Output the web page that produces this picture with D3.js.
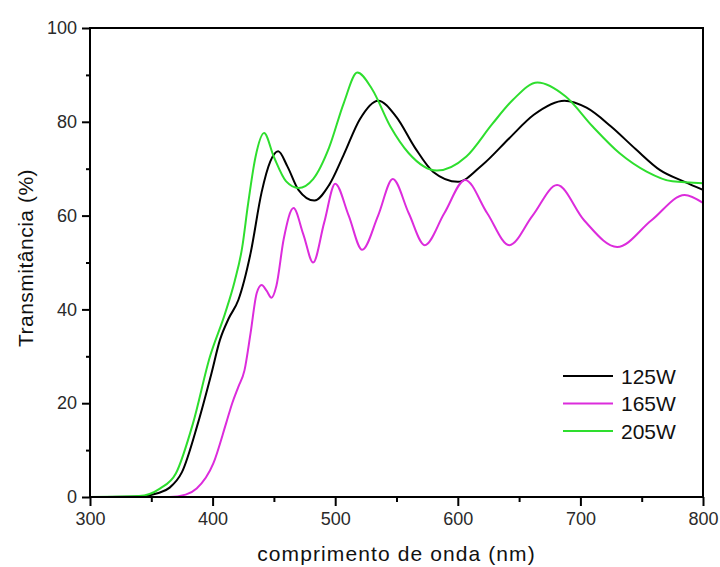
<!DOCTYPE html>
<html>
<head>
<meta charset="utf-8">
<script src="https://cdn.jsdelivr.net/npm/d3@7"></script>
<style>
  html, body { margin: 0; padding: 0; background: #fff; }
  svg { display: block; font-family: "Liberation Sans", Arial, sans-serif; }
</style>
</head>
<body>
<svg id="chart" width="720" height="567"></svg>
<script>
// Transmittance spectra for three deposition powers

const seriesNames = ["125W", "165W", "205W"];
const seriesColors = ["#000000", "#dc2cdc", "#2ede2e"];

const xTicks = [300, 400, 500, 600, 700, 800];
const yTicks = [0, 20, 40, 60, 80, 100];

const wl125 = [300, 340, 355, 365, 375, 388, 399, 406, 413, 421, 431, 440, 447, 453.5, 461, 470, 483, 495, 507, 520, 535, 550, 565, 580, 600, 620, 642, 662, 687, 705, 725, 745, 765, 785, 800];
const t125 = [0, 0.1, 0.8, 2, 5.3, 15.7, 26.3, 33.5, 38, 42, 52, 65, 71.5, 73.7, 70.5, 65.5, 63.2, 66.5, 73, 80.5, 84.5, 81, 74.5, 69.3, 67.2, 70.8, 76.5, 81.5, 84.5, 83, 79, 74.2, 69.7, 67.2, 65.5];

const wl165 = [300, 365, 378, 387, 400.5, 411, 416, 421, 426, 431, 436, 440, 444, 448, 452, 458, 466, 474, 482, 491, 500, 511, 522, 535, 547, 560, 573, 589, 606, 624, 642, 661, 681, 703, 730, 758, 785, 800];
const t165 = [0, 0, 0.5, 1.8, 7.1, 15.7, 20, 23.5, 27, 35, 43.5, 45.2, 44, 42.5, 45, 55, 61.6, 56, 50, 58.5, 66.8, 60, 52.7, 60, 67.8, 60.5, 53.7, 60.5, 67.6, 60.5, 53.7, 60, 66.5, 59, 53.3, 59, 64.4, 62.7];

const wl205 = [300, 340, 357, 370, 384, 397.8, 410, 418, 424, 429, 435, 442, 450, 460, 470, 482, 495, 507, 518, 530, 545, 560, 583, 607, 628, 645, 665, 688, 710, 732, 754, 775, 800];
const t205 = [0, 0.2, 1.8, 5, 15.7, 29.9, 39, 46, 53, 62.6, 72.5, 77.6, 72.5, 67.3, 65.9, 67.8, 74.5, 84, 90.5, 87, 79, 73.3, 69.6, 72.6, 79.5, 84.7, 88.4, 85.4, 79, 73.3, 69.4, 67.3, 66.9];

const wavelengths = [wl125, wl165, wl205];
const transmittance = [t125, t165, t205];

const margin = { top: 28, right: 17, bottom: 70, left: 90 };
const width = 720, height = 567;

const svg = d3.select("#chart");

const x = d3.scaleLinear().domain([300, 800]).range([margin.left, width - margin.right]);
const y = d3.scaleLinear().domain([0, 100]).range([height - margin.bottom, margin.top]);

// minor ticks first so the major ticks sit on top
const xMinor = d3.range(350, 800, 100);
const yMinor = d3.range(10, 100, 20);

svg.append("g")
  .attr("transform", `translate(0,${y(0)})`)
  .call(d3.axisBottom(x).tickValues(xMinor).tickSize(5).tickFormat("").tickSizeOuter(0))
  .call((g) => g.select(".domain").remove())
  .call((g) => g.selectAll("line").attr("stroke", "#000").attr("stroke-width", 2));

svg.append("g")
  .attr("transform", `translate(${x(300)},0)`)
  .call(d3.axisLeft(y).tickValues(yMinor).tickSize(4).tickFormat("").tickSizeOuter(0))
  .call((g) => g.select(".domain").remove())
  .call((g) => g.selectAll("line").attr("stroke", "#000").attr("stroke-width", 2));

const xAxis = svg.append("g")
  .attr("transform", `translate(0,${y(0)})`)
  .call(d3.axisBottom(x).tickValues(xTicks).tickSize(9).tickPadding(6).tickSizeOuter(0));

const yAxis = svg.append("g")
  .attr("transform", `translate(${x(300)},0)`)
  .call(d3.axisLeft(y).tickValues(yTicks).tickSize(8).tickPadding(5).tickSizeOuter(0));

[xAxis, yAxis].forEach((g) => {
  g.select(".domain").remove();
  g.selectAll("line").attr("stroke", "#000").attr("stroke-width", 2);
  g.selectAll("text")
    .attr("fill", "#2a2a2a")
    .attr("font-size", 18)
    .attr("font-family", "Liberation Sans, Arial, sans-serif");
});

// curves
const line = d3.line()
  .x((d) => x(d[0]))
  .y((d) => y(d[1]))
  .curve(d3.curveMonotoneX);

const plot = svg.append("g");
seriesNames.forEach((name, i) => {
  const pts = wavelengths[i].map((w, j) => [w, transmittance[i][j]]);
  plot.append("path")
    .datum(pts)
    .attr("fill", "none")
    .attr("stroke", seriesColors[i])
    .attr("stroke-width", 2)
    .attr("stroke-linejoin", "round")
    .attr("d", line);
});

// frame
svg.append("rect")
  .attr("x", x(300))
  .attr("y", y(100))
  .attr("width", x(800) - x(300))
  .attr("height", y(0) - y(100))
  .attr("fill", "none")
  .attr("stroke", "#000")
  .attr("stroke-width", 2);

// legend
const legend = svg.append("g");
seriesNames.forEach((name, i) => {
  const ly = 376 + i * 27.5;
  legend.append("line")
    .attr("x1", 563).attr("x2", 613)
    .attr("y1", ly).attr("y2", ly)
    .attr("stroke", seriesColors[i])
    .attr("stroke-width", 2);
  legend.append("text")
    .attr("x", 621)
    .attr("y", ly)
    .attr("dy", "0.36em")
    .attr("font-size", 21)
    .attr("fill", "#111")
    .text(name);
});

// axis titles
svg.append("text")
  .attr("x", (x(300) + x(800)) / 2)
  .attr("y", 561)
  .attr("text-anchor", "middle")
  .attr("font-size", 21)
  .attr("letter-spacing", "1.1px")
  .attr("fill", "#111")
  .text("comprimento de onda (nm)");

svg.append("text")
  .attr("transform", `translate(33,${258}) rotate(-90)`)
  .attr("text-anchor", "middle")
  .attr("font-size", 21)
  .attr("letter-spacing", "0.5px")
  .attr("fill", "#111")
  .text("Transmitância (%)");
</script>
</body>
</html>
